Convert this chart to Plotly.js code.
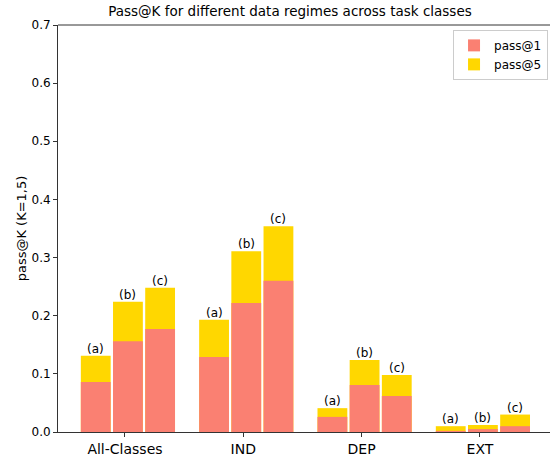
<!DOCTYPE html>
<html>
<head>
<meta charset="utf-8">
<script src="https://cdn.plot.ly/plotly-3.0.1.min.js"></script>
<style>html,body{margin:0;padding:0;background:#fff;}#chart{width:550px;height:459px;}</style>
</head>
<body>
<div id="chart"></div>
<script>
// Task classes (x categories) and data regimes
const categories = ['All-Classes', 'IND', 'DEP', 'EXT'];
const regimes = ['(a)', '(b)', '(c)'];

// pass@1 values per regime, across categories
const pass1_a = [0.086, 0.129, 0.026, 0.002];
const pass1_b = [0.156, 0.222, 0.081, 0.005];
const pass1_c = [0.177, 0.260, 0.062, 0.010];

// pass@5 values per regime, across categories
const pass5_a = [0.131, 0.193, 0.041, 0.010];
const pass5_b = [0.224, 0.311, 0.124, 0.012];
const pass5_c = [0.248, 0.354, 0.098, 0.030];

const yTicks = [0.0, 0.1, 0.2, 0.3, 0.4, 0.5, 0.6, 0.7];

// layout of bars within a group
const offsets = [-0.247, 0.025, 0.297];
const barWidth = 0.252;

const p1 = [pass1_a, pass1_b, pass1_c];
const p5 = [pass5_a, pass5_b, pass5_c];

const xs = [], y1 = [], y5 = [], labs = [];
categories.forEach((c, i) => {
  regimes.forEach((r, k) => {
    xs.push(i + offsets[k]);
    y1.push(p1[k][i]);
    y5.push(p5[k][i]);
    labs.push(r);
  });
});

const traces = [
  {type: 'bar', name: 'pass@5', x: xs, y: y5, width: barWidth,
   marker: {color: '#FFD700', line: {width: 0}}, legendrank: 2, hoverinfo: 'skip'},
  {type: 'bar', name: 'pass@1', x: xs, y: y1, width: barWidth,
   marker: {color: '#FA8072', line: {width: 0}}, legendrank: 1, hoverinfo: 'skip'}
];

const annotations = xs.map((x, j) => ({
  x: x, y: y5[j], xref: 'x', yref: 'y', text: labs[j], showarrow: false,
  yanchor: 'bottom', yshift: -2,
  font: {family: 'DejaVu Sans', size: 12, color: '#000'}
}));

const layout = {
  width: 550, height: 459,
  margin: {l: 58, r: 0, t: 25, b: 27},
  paper_bgcolor: '#fff', plot_bgcolor: '#fff',
  font: {family: 'DejaVu Sans', color: '#000'},
  barmode: 'overlay',
  title: {text: 'Pass@K for different data regimes across task classes',
          font: {family: 'DejaVu Sans', size: 13.5, color: '#000'},
          x: 290 / 550, xref: 'container', xanchor: 'center',
          y: 1 - 11.5 / 459, yref: 'container', yanchor: 'middle'},
  xaxis: {
    range: [-0.566, 3.592], tickvals: [0, 1, 2, 3], ticktext: categories,
    showgrid: false, zeroline: false, showline: true, mirror: false,
    linecolor: '#333', linewidth: 1, ticks: 'outside', ticklen: 4, tickcolor: '#333',
    tickfont: {family: 'DejaVu Sans', size: 14, color: '#000'}
  },
  yaxis: {
    range: [0, 0.7], tickvals: yTicks, ticktext: yTicks.map(v => v.toFixed(1)),
    showgrid: false, zeroline: false, showline: true, mirror: false,
    linecolor: '#333', linewidth: 1, ticks: 'outside', ticklen: 4, tickcolor: '#333',
    tickfont: {family: 'DejaVu Sans', size: 12, color: '#000'},
    title: {text: 'pass@K (K=1,5)', font: {family: 'DejaVu Sans', size: 13, color: '#000'}, standoff: 1},
    automargin: false
  },
  shapes: [
    {type: 'line', xref: 'paper', yref: 'paper', x0: 0, x1: 1, y0: 1, y1: 1,
     line: {color: '#333', width: 1}}
  ],
  legend: {
    x: 0.996, xanchor: 'right', y: 0.988, yanchor: 'top',
    bgcolor: 'rgba(255,255,255,0.8)', bordercolor: '#cccccc', borderwidth: 1,
    font: {family: 'DejaVu Sans', size: 12, color: '#000'}
  },
  annotations: annotations,
  showlegend: true
};

Plotly.newPlot('chart', traces, layout, {staticPlot: true, displayModeBar: false});
</script>
</body>
</html>
